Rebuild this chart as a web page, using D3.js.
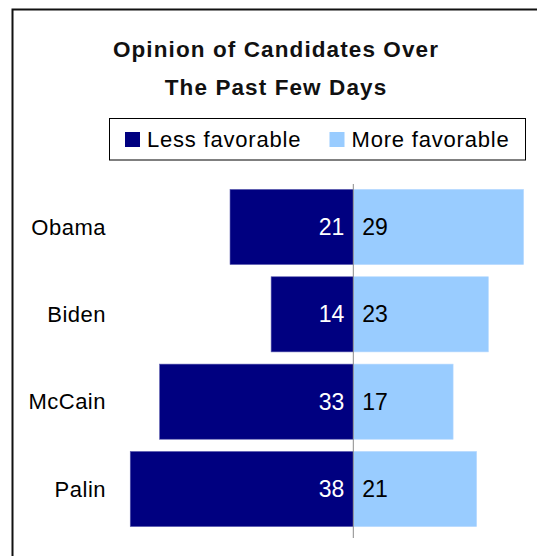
<!DOCTYPE html>
<html>
<head>
<meta charset="utf-8">
<script src="https://cdn.jsdelivr.net/npm/d3@7/dist/d3.min.js"></script>
<style>
  html, body { margin: 0; padding: 0; background: #fff; }
  svg { display: block; }
  text { font-family: "Liberation Sans", Arial, sans-serif; }
</style>
</head>
<body>
<svg id="chart" width="537" height="556"></svg>
<script>
// Survey data: share saying their opinion became less / more favorable
const candidates = ["Obama", "Biden", "McCain", "Palin"];
const lessFavorable = [21, 14, 33, 38];
const moreFavorable = [29, 23, 17, 21];
const seriesNames = ["Less favorable", "More favorable"];
const titleLines = ["Opinion of Candidates Over", "The Past Few Days"];

const colors = { less: "#000080", more: "#99CCFF" };

const svg = d3.select("#chart");

// Frame around the chart (open on right and bottom)
svg.append("rect")
  .attr("x", 12.5).attr("y", 9.5)
  .attr("width", 700).attr("height", 700)
  .attr("fill", "none").attr("stroke", "#111").attr("stroke-width", 2);

// Title
svg.append("g").selectAll("text")
  .data(titleLines)
  .join("text")
  .attr("x", 276)
  .attr("y", (d, i) => 57 + i * 38)
  .attr("text-anchor", "middle")
  .attr("font-size", 22.5)
  .attr("font-weight", "bold")
  .attr("letter-spacing", 1.1)
  .attr("fill", "#111")
  .text(d => d);

// Legend
const legend = svg.append("g");
legend.append("rect")
  .attr("x", 109.5).attr("y", 118.5)
  .attr("width", 416).attr("height", 41.5)
  .attr("fill", "#fff").attr("stroke", "#000").attr("stroke-width", 1);

const legendItems = [
  { name: seriesNames[0], color: colors.less, x: 125 },
  { name: seriesNames[1], color: colors.more, x: 329.5 }
];
const li = legend.selectAll("g.item").data(legendItems).join("g")
  .attr("class", "item")
  .attr("transform", d => `translate(${d.x},132)`);
li.append("rect")
  .attr("width", 15).attr("height", 15)
  .attr("fill", d => d.color);
li.append("text")
  .attr("x", 22).attr("y", 14.5)
  .attr("font-size", 22)
  .attr("letter-spacing", 0.8)
  .attr("fill", "#000")
  .text(d => d.name);

// Scales
const x = d3.scaleLinear().domain([-40, 30]).range([353.3 - 40 * 5.87, 353.3 + 30 * 5.87]);
const y = d3.scaleBand().domain(candidates).range([183.3, 532.7]).paddingInner(0.14).paddingOuter(0.07);

const rows = candidates.map((c, i) => ({ name: c, less: lessFavorable[i], more: moreFavorable[i] }));

const plot = svg.append("g");

// Less favorable bars extend left of zero
plot.selectAll("rect.less").data(rows).join("rect")
  .attr("class", "less")
  .attr("x", d => x(-d.less))
  .attr("y", d => y(d.name))
  .attr("width", d => x(0) - x(-d.less))
  .attr("height", y.bandwidth())
  .attr("fill", colors.less)
  .attr("stroke", "#5c5cb0").attr("stroke-width", 0.6);

// More favorable bars extend right of zero
plot.selectAll("rect.more").data(rows).join("rect")
  .attr("class", "more")
  .attr("x", x(0))
  .attr("y", d => y(d.name))
  .attr("width", d => x(d.more) - x(0))
  .attr("height", y.bandwidth())
  .attr("fill", colors.more)
  .attr("stroke", "#b4d8ff").attr("stroke-width", 0.6);

// Zero line
plot.append("line")
  .attr("x1", x(0)).attr("x2", x(0))
  .attr("y1", 184).attr("y2", 538)
  .attr("stroke", "#8a8a8a").attr("stroke-width", 1);

// Category labels
plot.selectAll("text.cat").data(rows).join("text")
  .attr("class", "cat")
  .attr("x", 106)
  .attr("y", d => y(d.name) + y.bandwidth() / 2)
  .attr("dy", "0.35em")
  .attr("text-anchor", "end")
  .attr("font-size", 22)
  .attr("letter-spacing", 0.5)
  .attr("fill", "#000")
  .text(d => d.name);

// Value labels
plot.selectAll("text.vless").data(rows).join("text")
  .attr("class", "vless")
  .attr("x", x(0) - 9)
  .attr("y", d => y(d.name) + y.bandwidth() / 2)
  .attr("dy", "0.35em")
  .attr("text-anchor", "end")
  .attr("font-size", 23)
  .attr("fill", "#fff")
  .text(d => d.less);

plot.selectAll("text.vmore").data(rows).join("text")
  .attr("class", "vmore")
  .attr("x", x(0) + 9)
  .attr("y", d => y(d.name) + y.bandwidth() / 2)
  .attr("dy", "0.35em")
  .attr("text-anchor", "start")
  .attr("font-size", 23)
  .attr("fill", "#000")
  .text(d => d.more);
</script>
</body>
</html>
